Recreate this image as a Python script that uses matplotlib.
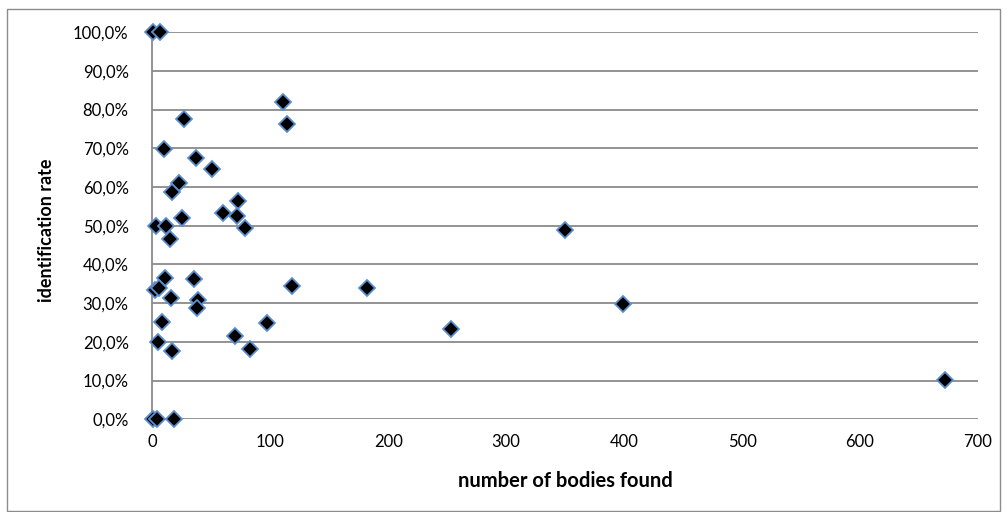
import matplotlib
matplotlib.use("Agg")
import matplotlib.pyplot as plt
from matplotlib.patches import Rectangle
from matplotlib.ticker import FuncFormatter

bodies_found = [1, 6.5, 111, 114, 26.5, 10, 37, 51, 23, 16.7, 73, 60, 72, 25, 79,
                3, 12, 15, 350, 11, 35.6, 2, 6, 16, 39, 38, 118.6, 182, 399,
                253, 8, 97, 70, 5, 16.4, 83, 672, 0.5, 4, 18]
identification_rate = [100.0, 100.0, 81.9, 76.2, 77.6, 69.8, 67.4, 64.6, 61.0, 58.8,
                       56.3, 53.4, 52.6, 52.1, 49.3, 50.0, 49.9, 46.5, 48.8, 36.4,
                       36.1, 33.3, 33.8, 31.2, 30.8, 28.8, 34.4, 34.0, 29.7, 23.3,
                       25.0, 24.8, 21.5, 20.0, 17.6, 18.1, 10.1, 0.0, 0.0, 0.0]

x_ticks = [0, 100, 200, 300, 400, 500, 600, 700]
y_ticks = [0, 10, 20, 30, 40, 50, 60, 70, 80, 90, 100]

plt.rcParams['font.family'] = ['Lato', 'DejaVu Sans']

fig = plt.figure(figsize=(10.08, 5.12), dpi=100)
W, H = 1008, 512
left, right, top, bottom = 152.3, 978, 32.2, 419.2
ax = fig.add_axes([left / W, 1 - bottom / H, (right - left) / W, (bottom - top) / H])

# figure border
fig.patches.append(Rectangle((7 / W, 1 / H), (1000 - 7) / W, (503 - 1) / H,
                             transform=fig.transFigure, fill=False,
                             edgecolor='#8c8c8c', linewidth=1.0))

ax.set_xlim(0, 700)
ax.set_ylim(0, 100)
ax.set_xticks(x_ticks)
ax.set_yticks(y_ticks)
ax.yaxis.set_major_formatter(FuncFormatter(lambda v, p: f"{v:.1f}%".replace('.', ',')))
ax.grid(axis='y', color='#8a8a8a', linewidth=1.3)
ax.set_axisbelow(True)
for s in ['top', 'right', 'bottom']:
    ax.spines[s].set_visible(False)
ax.spines['left'].set_color('#8a8a8a')
ax.spines['left'].set_linewidth(1.3)
ax.tick_params(axis='both', length=0, labelsize=12, colors='black')
ax.tick_params(axis='y', pad=17)
ax.tick_params(axis='x', pad=11)

ax.plot(bodies_found, identification_rate, linestyle='none', marker='D',
        markersize=8, markerfacecolor='black', markeredgecolor='#5b8fd0',
        markeredgewidth=1.3, clip_on=False, zorder=3)

fig.text(565 / W, 1 - 481 / H, 'number of bodies found', fontsize=14.5,
         fontweight='bold', ha='center', va='center')
fig.text(47 / W, 1 - 230 / H, 'identification rate', fontsize=13,
         fontweight='bold', ha='center', va='center', rotation=90)

fig.savefig('out.png', dpi=100)
